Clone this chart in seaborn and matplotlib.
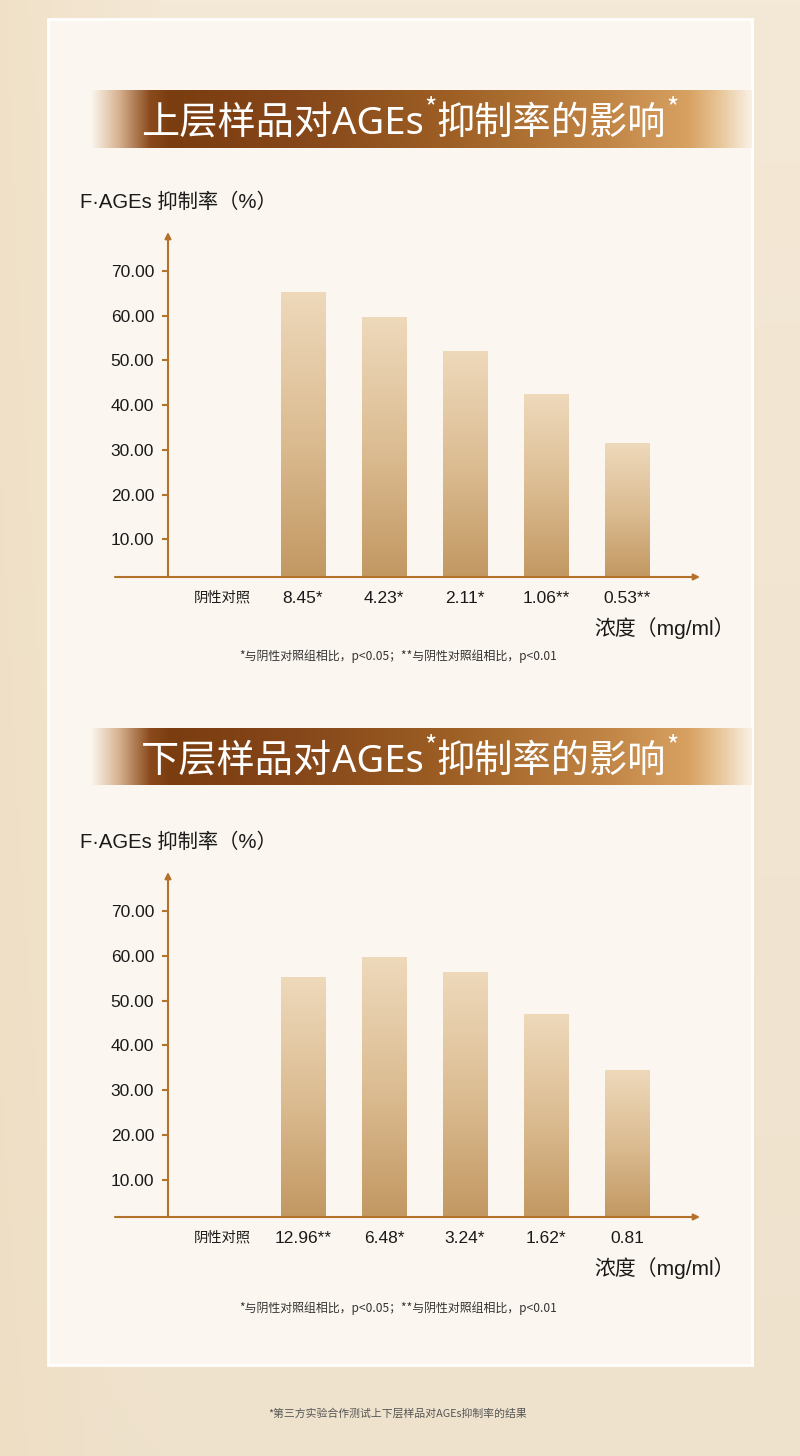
import numpy as np
import pandas as pd
import matplotlib
matplotlib.use("Agg")
import matplotlib.pyplot as plt
import seaborn as sns
from matplotlib.colors import LinearSegmentedColormap, to_rgb
from matplotlib.patches import Rectangle

# ---------------- data ----------------
upper_title = "上层样品对"
lower_title = "下层样品对"
title_mid = "AGEs"
title_tail = "抑制率的影响"
y_label = "F·AGEs 抑制率（%）"
x_label = "浓度（mg/ml）"
upper_categories = ["阴性对照", "8.45*", "4.23*", "2.11*", "1.06**", "0.53**"]
upper_values = [0, 65.4, 59.6, 52.2, 42.4, 31.5]
lower_categories = ["阴性对照", "12.96**", "6.48*", "3.24*", "1.62*", "0.81"]
lower_values = [0, 55.2, 59.7, 56.4, 46.9, 34.6]
y_ticks = [10, 20, 30, 40, 50, 60, 70]
note = "*与阴性对照组相比，p<0.05；**与阴性对照组相比，p<0.01"
footer = "*第三方实验合作测试上下层样品对AGEs抑制率的结果"

# ---------------- style ----------------
sns.set_theme(style="white")
plt.rcParams["font.family"] = ["Liberation Sans", "Noto Sans CJK SC", "DejaVu Sans"]
CJK = ["Noto Sans CJK SC", "DejaVu Sans"]
MIX = ["Liberation Sans", "Noto Sans CJK SC", "DejaVu Sans"]
LAT = ["Noto Sans", "DejaVu Sans"]
AXC = "#b5722c"
TXT = "#1a1a1a"

W, H = 800, 1456
fig = plt.figure(figsize=(W / 100, H / 100), dpi=100)

# background axes in pixel coordinates
bg = fig.add_axes([0, 0, 1, 1], zorder=-5)
bg.set_xlim(0, W)
bg.set_ylim(H, 0)
bg.axis("off")

yy, xx = np.mgrid[0:H:4, 0:W:4]
c_top = np.array(to_rgb("#f4e8d6"))
c_bot = np.array(to_rgb("#efe2cd"))
c_left = np.array(to_rgb("#eedcbf"))
t = (yy / H)[..., None]
s = np.clip(1 - xx / 160, 0, 1)[..., None]
img = c_top * (1 - t) + c_bot * t
img = img * (1 - 0.6 * s) + c_left * 0.6 * s
bg.imshow(img, extent=[0, W, H, 0], aspect="auto", zorder=0)

bg.add_patch(Rectangle((48, 19), 704, 1346, facecolor="#fbf6ef",
                       edgecolor="#ffffff", lw=2, zorder=1))


def banner(y0, y1):
    stops = [(92, "#faf3ea"), (118, "#d8b392"), (150, "#8a4a1c"), (170, "#7a3d0f"),
             (300, "#86471a"), (450, "#9d5f24"), (600, "#bf8343"), (690, "#d8a263"),
             (722, "#e9c89c"), (752, "#f9f1e6")]
    xs = np.arange(92, 753)
    cols = np.zeros((len(xs), 3))
    for k in range(3):
        cols[:, k] = np.interp(xs, [p for p, _ in stops], [to_rgb(c)[k] for _, c in stops])
    im = np.repeat(cols[None, :, :], 4, axis=0)
    bg.imshow(im, extent=[92, 752, y1, y0], aspect="auto", zorder=2, interpolation="bilinear")


def title(text_a, y_base):
    renderer = fig.canvas.get_renderer()
    x = 141
    parts = [(text_a, 27.5, 0, CJK), (title_mid, 27.5, 0, LAT), ("*", 19, -18, CJK),
             (title_tail, 27.5, 0, CJK), ("*", 19, -18, CJK)]
    for sstr, size, dy, fam in parts:
        tt = bg.text(x, y_base + dy, sstr, fontsize=size, color="white", family=fam,
                     ha="left", va="baseline", zorder=3)
        bb = tt.get_window_extent(renderer)
        x += bb.width


def chart(top_px, cats, vals, note_y, ymin):
    ymax = 78.7
    axis_px = top_px + 345
    ax = fig.add_axes([168 / W, 1 - axis_px / H, 532 / W, 345 / H], zorder=1)
    ax.set_facecolor("none")
    df = pd.DataFrame({"conc": cats, "rate": vals})
    sns.barplot(data=df, x="conc", y="rate", order=cats, width=0.55, errorbar=None,
                color="#d4b286", ax=ax)
    cmap = LinearSegmentedColormap.from_list("bar", ["#c29862", "#dcbd93", "#eed9bb"])
    grad = np.linspace(0, 1, 256).reshape(-1, 1)
    for p, v in zip(ax.patches, vals):
        if v <= 0:
            p.set_visible(False)
            continue
        p.set_facecolor("none")
        p.set_edgecolor("none")
        x0 = p.get_x()
        im = ax.imshow(grad, cmap=cmap, origin="lower", aspect="auto",
                       extent=[x0, x0 + p.get_width(), ymin, v], zorder=2)
        im.set_clip_path(p)
    ax.set_xlim(-0.667, 5.901)
    ax.set_ylim(ymin, ymax)
    for sp in ax.spines.values():
        sp.set_visible(False)
    ax.set_xlabel("")
    ax.set_ylabel("")
    ax.set_yticks(y_ticks)
    ax.set_yticklabels([f"{v:.2f}" for v in y_ticks], family=MIX, fontsize=12.5, color=TXT)
    ax.tick_params(axis="y", left=True, length=4, width=1.5, color=AXC, pad=6)
    ax.tick_params(axis="x", bottom=False, length=0, pad=10)
    ax.set_xticks(range(len(cats)))
    ax.set_xticklabels(cats, family=MIX, fontsize=12.5, color=TXT)
    ax.get_xticklabels()[0].set_fontsize(10.3)
    ax.get_xticklabels()[0].set_family(CJK)
    # axes with arrows
    ax.annotate("", xy=(0, 1), xytext=(0, 0), xycoords="axes fraction",
                arrowprops=dict(arrowstyle="-|>", color=AXC, lw=1.5, mutation_scale=9,
                                shrinkA=0, shrinkB=0), annotation_clip=False)
    ax.annotate("", xy=(1, 0), xytext=(-53 / 532, 0), xycoords="axes fraction",
                arrowprops=dict(arrowstyle="-|>", color=AXC, lw=1.5, mutation_scale=9,
                                shrinkA=0, shrinkB=0), annotation_clip=False)
    ax.grid(False)
    bg.text(80, top_px - 30, y_label, fontsize=14.6, color=TXT, family=MIX,
            ha="left", va="center", zorder=3)
    bg.text(594, axis_px + 51, x_label, fontsize=15, color=TXT, family=MIX,
            ha="left", va="center", zorder=3)
    bg.text(398, note_y, note, fontsize=8.6, color="#333333", family=CJK,
            ha="center", va="center", zorder=3)


banner(90, 148)
banner(728, 785)
title(upper_title, 134)
title(lower_title, 772)
chart(232, upper_categories, upper_values, 656, 1.62)
chart(872, lower_categories, lower_values, 1308, 1.70)
bg.text(398, 1413, footer, fontsize=7.8, color="#555555", family=CJK,
        ha="center", va="center", zorder=3)

fig.savefig("out.png", dpi=100)
